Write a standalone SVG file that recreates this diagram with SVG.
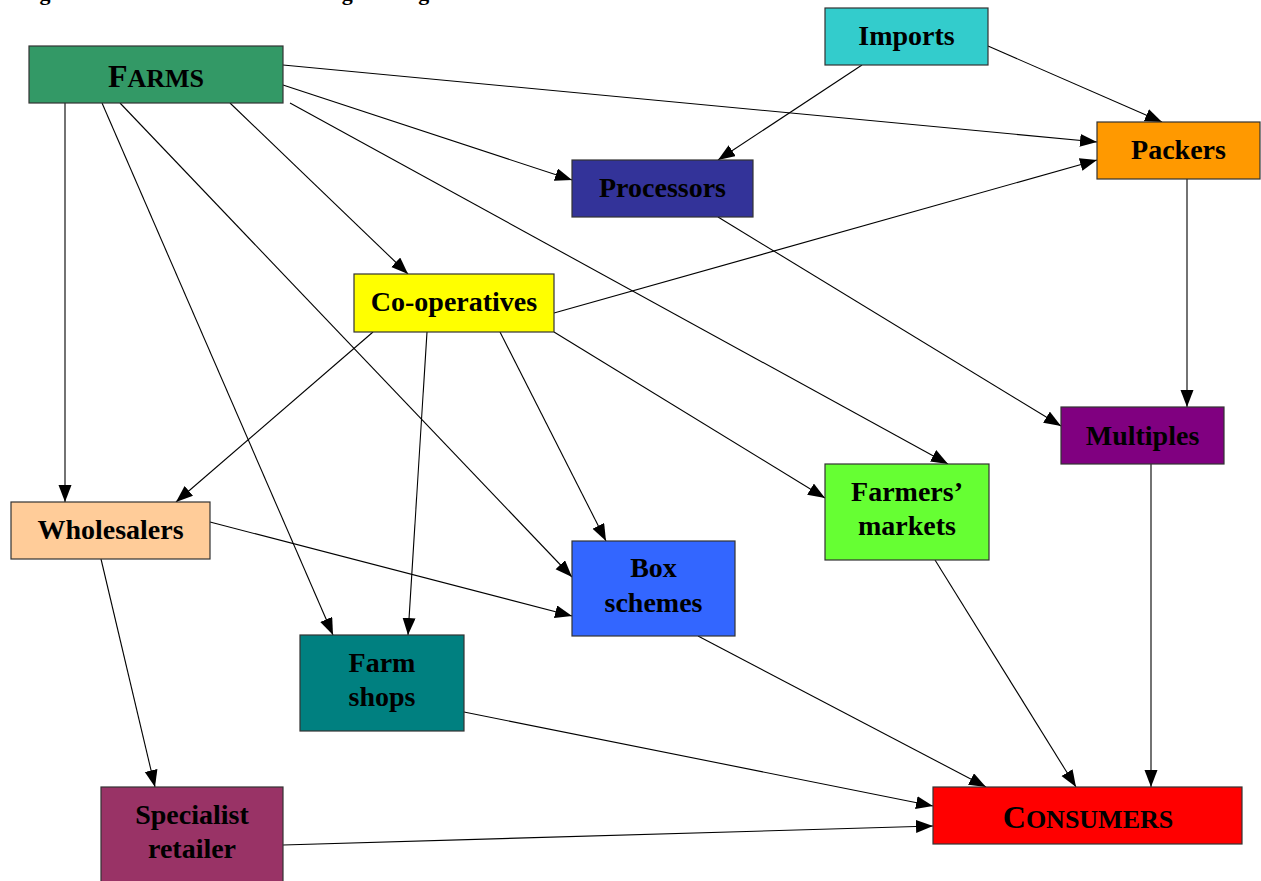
<svg xmlns="http://www.w3.org/2000/svg" width="1261" height="881" viewBox="0 0 1261 881">
<defs>
<marker id="ah" markerUnits="userSpaceOnUse" markerWidth="18" markerHeight="14" refX="17" refY="6.5" orient="auto">
<path d="M0,0 L17,6.5 L0,13 z" fill="#000"/>
</marker>
<style>
rect{stroke:#333;stroke-width:1.2}
text{font-family:"Liberation Serif","Times New Roman",serif;font-weight:bold;font-size:28px;fill:#000;text-anchor:middle}
.big{font-size:32px}
.sc{font-size:26px}
#edges line{stroke:#000;stroke-width:1.1;marker-end:url(#ah)}
</style>
</defs>
<rect width="1261" height="881" fill="#fff" style="stroke:none"/>
<text x="20" y="0" style="text-anchor:start;font-size:22px">Figure 3.1: Market network for organic vegetables</text>
<g id="edges">
<line x1="65" y1="103" x2="65" y2="502"/>
<line x1="102" y1="103" x2="333" y2="635"/>
<line x1="120" y1="103" x2="572" y2="577"/>
<line x1="230" y1="103" x2="408" y2="274"/>
<line x1="283" y1="85" x2="572" y2="180"/>
<line x1="283" y1="65" x2="1097" y2="142"/>
<line x1="290" y1="103" x2="948" y2="464"/>
<line x1="862" y1="65" x2="718" y2="160"/>
<line x1="988" y1="46" x2="1162" y2="122"/>
<line x1="554" y1="313" x2="1097" y2="160"/>
<line x1="373" y1="332" x2="176" y2="502"/>
<line x1="427" y1="332" x2="408" y2="635"/>
<line x1="500" y1="332" x2="606" y2="541"/>
<line x1="554" y1="332" x2="825" y2="498"/>
<line x1="718" y1="217" x2="1061" y2="426"/>
<line x1="1187" y1="179" x2="1187" y2="407"/>
<line x1="210" y1="522" x2="572" y2="616"/>
<line x1="101" y1="559" x2="155" y2="787"/>
<line x1="464" y1="712" x2="933" y2="806"/>
<line x1="698" y1="636" x2="986" y2="787"/>
<line x1="935" y1="560" x2="1076" y2="787"/>
<line x1="1151" y1="464" x2="1151" y2="787"/>
<line x1="283" y1="845" x2="933" y2="826"/>
</g>
<g id="farms"><rect x="29" y="46" width="254" height="57" fill="#339966"/><text x="156" y="87" class="big">F<tspan class="sc">ARMS</tspan></text></g>
<g id="imports"><rect x="825" y="8" width="163" height="57" fill="#33CCCC"/><text x="906.5" y="45">Imports</text></g>
<g id="packers"><rect x="1097" y="122" width="163" height="57" fill="#FF9900"/><text x="1178.5" y="159">Packers</text></g>
<g id="processors"><rect x="572" y="160" width="181" height="57" fill="#333399"/><text x="662.5" y="197">Processors</text></g>
<g id="cooperatives"><rect x="354" y="274" width="200" height="58" fill="#FFFF00"/><text x="454" y="311">Co-operatives</text></g>
<g id="multiples"><rect x="1061" y="407" width="163" height="57" fill="#800080"/><text x="1142.5" y="445">Multiples</text></g>
<g id="farmers-markets"><rect x="825" y="464" width="164" height="96" fill="#66FF33"/><text x="907" y="501">Farmers’</text><text x="907" y="535">markets</text></g>
<g id="wholesalers"><rect x="11" y="502" width="199" height="57" fill="#FFCC99"/><text x="110.5" y="539">Wholesalers</text></g>
<g id="box-schemes"><rect x="572" y="541" width="163" height="95" fill="#3366FF"/><text x="653.5" y="577">Box</text><text x="653.5" y="612">schemes</text></g>
<g id="farm-shops"><rect x="300" y="635" width="164" height="96" fill="#008080"/><text x="382" y="672">Farm</text><text x="382" y="706">shops</text></g>
<g id="specialist-retailer"><rect x="101" y="787" width="182" height="100" fill="#993366"/><text x="192" y="824">Specialist</text><text x="192" y="858">retailer</text></g>
<g id="consumers"><rect x="933" y="787" width="309" height="57" fill="#FF0000"/><text x="1088" y="828" class="big">C<tspan class="sc">ONSUMERS</tspan></text></g>
</svg>
